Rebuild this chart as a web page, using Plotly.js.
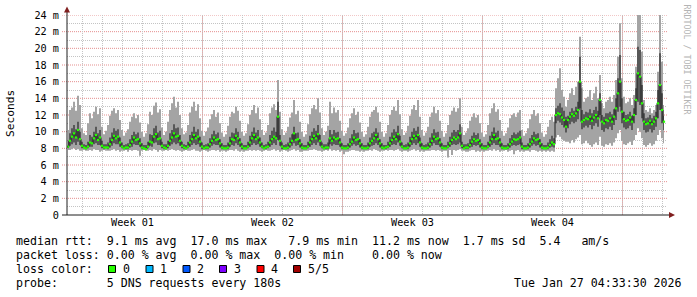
<!DOCTYPE html>
<html><head><meta charset="utf-8">
<script src="https://cdn.plot.ly/plotly-3.0.1.min.js"></script>
<style>html,body{margin:0;padding:0;background:#fff;} #chart{width:697px;height:297px;}</style>
</head><body><div id="chart"></div>
<script>
// time axis in hours since Mon 29 Dec 2025 00:00
const startHour = 5.4;
const stepHours = 2.4;
const rangeHours = [5.4, 725.4];
const weekStarts = [168, 336, 504, 672];
const weekLabelPos = [84, 252, 420, 588];
const weekLabels = ['Week 01', 'Week 02', 'Week 03', 'Week 04'];
const yTickVals = [0, 2, 4, 6, 8, 10, 12, 14, 16, 18, 20, 22, 24];
const yTickText = ['0', '2 m', '4 m', '6 m', '8 m', '10 m', '12 m', '14 m', '16 m', '18 m', '20 m', '22 m', '24 m'];
const yMinorVals = [1, 3, 5, 7, 9, 11, 13, 15, 17, 19, 21, 23];

// smoke: highest ping (ms)
const hi = [
10.2,12.6,12.9,13.6,12.5,14.3,13.2,10.4,9.8,9.6,
11.0,12.2,11.6,12.4,13.0,12.1,12.8,10.6,9.7,10.1,
10.8,11.9,12.5,12.8,12.2,12.6,11.4,10.2,9.5,9.9,
10.3,11.2,11.8,12.2,11.6,12.0,11.1,10.0,9.4,9.8,
10.9,12.4,12.0,13.1,13.5,12.3,12.7,10.5,9.6,10.0,
11.2,12.6,13.4,14.2,12.9,13.6,12.0,10.4,9.7,9.9,
10.8,12.3,13.0,13.6,12.5,13.3,11.6,10.1,9.5,10.0,
10.5,11.5,12.1,12.6,11.8,12.3,11.0,9.9,9.4,9.7,
10.7,11.8,12.4,12.2,13.0,12.5,11.3,10.0,9.5,9.8,
10.9,12.0,12.6,13.2,12.2,12.9,11.5,10.2,9.6,9.9,
10.8,12.2,12.9,13.3,12.6,16.2,12.4,10.3,9.6,9.9,
10.6,11.7,12.3,13.8,12.1,12.5,11.2,10.0,9.4,9.7,
10.9,12.1,12.8,13.2,12.7,14.0,12.3,10.4,9.6,10.0,
10.7,13.6,12.2,12.9,12.3,12.6,11.3,10.1,9.5,9.8,
10.5,11.6,12.2,12.8,12.0,12.4,11.1,10.0,9.4,9.7,
10.6,11.8,12.4,12.6,13.0,12.3,11.2,10.0,9.4,9.8,
10.8,12.0,12.6,13.0,12.5,13.8,12.1,10.3,9.6,9.9,
10.7,11.9,12.7,13.2,12.6,13.8,11.8,10.2,9.5,9.9,
10.6,11.8,12.3,13.0,12.2,12.6,11.3,10.1,9.4,9.8,
10.8,12.0,12.5,12.9,12.4,12.8,14.0,10.6,9.6,9.9,
10.4,11.3,11.8,12.2,11.7,12.0,11.0,9.9,9.4,9.7,
10.8,12.2,12.8,13.4,12.4,12.7,11.4,10.1,9.5,9.8,
10.5,11.6,12.0,12.2,11.8,12.3,12.6,10.2,9.5,9.8,
10.4,11.5,12.1,12.6,11.9,12.2,11.0,9.9,9.4,9.7,
10.6,11.4,11.8,11.2,15.2,16.4,17.6,15.0,14.2,13.0,
13.8,14.6,15.2,14.4,15.4,16.0,21.4,15.2,13.6,14.0,
14.2,15.0,13.8,14.6,15.4,14.0,16.8,13.4,12.8,13.6,
13.8,14.2,13.6,14.4,16.2,19.0,23.0,16.4,14.2,13.4,
13.6,14.0,13.2,14.4,17.8,24.5,24.5,19.6,13.8,12.6,
12.4,12.8,12.2,12.6,13.2,17.2,24.5,18.4,13.2
];
// smoke: 4th ping
const q3 = [
8.9,9.8,10.4,10.8,10.3,11.2,10.0,8.8,8.5,8.4,
8.8,9.6,9.4,10.0,10.6,9.8,10.2,8.9,8.5,8.5,
8.7,9.3,9.9,10.4,10.1,10.3,9.3,8.7,8.4,8.5,
8.6,9.1,9.6,10.0,9.7,9.9,9.2,8.6,8.4,8.4,
8.8,9.7,9.6,10.4,10.7,9.9,10.1,8.8,8.5,8.5,
8.9,9.8,10.2,10.9,10.4,10.5,9.6,8.8,8.5,8.4,
8.8,9.6,10.0,10.6,10.0,10.3,9.4,8.7,8.4,8.5,
8.6,9.2,9.7,10.1,9.7,9.9,9.1,8.6,8.4,8.4,
8.7,9.4,9.9,9.8,10.4,10.0,9.2,8.6,8.4,8.4,
8.8,9.5,10.0,10.5,9.9,10.2,9.3,8.7,8.4,8.5,
8.8,9.6,10.1,10.5,10.0,13.6,9.6,8.7,8.4,8.5,
8.7,9.3,9.7,10.6,9.8,9.9,9.1,8.6,8.4,8.4,
8.8,9.5,10.0,10.4,10.1,10.8,9.6,8.7,8.5,8.5,
8.7,10.2,9.7,10.2,9.9,10.0,9.2,8.6,8.4,8.4,
8.6,9.2,9.7,10.2,9.8,9.9,9.1,8.6,8.4,8.4,
8.7,9.3,9.8,10.0,10.4,9.9,9.1,8.6,8.4,8.4,
8.8,9.4,9.9,10.3,10.0,10.7,9.5,8.7,8.4,8.5,
8.7,9.4,10.0,10.4,10.1,10.6,9.3,8.6,8.4,8.5,
8.7,9.3,9.8,10.3,9.9,10.0,9.2,8.6,8.4,8.4,
8.8,9.4,9.9,10.2,10.0,10.2,10.9,8.8,8.5,8.5,
8.6,9.1,9.5,9.9,9.6,9.8,9.1,8.6,8.4,8.4,
8.8,9.5,10.0,10.5,9.9,10.1,9.2,8.6,8.4,8.4,
8.6,9.2,9.6,9.9,9.7,9.9,10.1,8.7,8.4,8.4,
8.6,9.2,9.6,10.0,9.7,9.8,9.1,8.6,8.4,8.4,
8.7,9.1,9.5,9.2,12.8,13.1,13.4,12.9,12.5,11.8,
11.9,12.4,12.8,12.5,13.0,13.6,19.0,12.6,12.1,12.4,
12.3,12.7,12.2,12.6,13.0,12.5,14.6,12.0,11.8,12.2,
12.2,12.4,12.1,12.7,14.0,16.4,19.2,14.0,12.4,12.0,
12.1,12.4,11.9,12.8,15.2,20.2,19.8,15.6,12.2,11.6,
11.7,12.0,11.6,11.9,12.4,15.0,19.4,14.6,11.9
];
// median rtt
const med = [
8.2,8.9,9.4,9.8,9.3,10.2,9.1,8.3,8.1,8.0,
8.2,8.7,8.6,9.2,9.6,9.0,9.3,8.3,8.1,8.1,
8.1,8.5,9.0,9.5,9.2,9.4,8.7,8.2,8.0,8.1,
8.1,8.4,8.8,9.3,9.0,9.1,8.6,8.1,8.0,7.9,
8.2,8.8,8.7,9.4,9.7,9.1,9.2,8.3,8.1,8.0,
8.3,8.9,9.3,9.8,9.4,9.5,8.9,8.3,8.1,8.0,
8.2,8.7,9.1,9.6,9.2,9.4,8.8,8.2,8.0,8.1,
8.1,8.5,8.9,9.3,9.0,9.1,8.6,8.1,8.0,8.0,
8.1,8.6,9.1,9.0,9.5,9.2,8.7,8.2,8.0,8.0,
8.2,8.7,9.2,9.6,9.1,9.3,8.7,8.2,8.0,8.1,
8.2,8.7,9.1,9.4,9.2,11.8,8.9,8.2,8.0,8.0,
8.1,8.5,8.9,9.8,9.0,9.1,8.6,8.1,8.0,8.0,
8.2,8.7,9.1,9.5,9.2,9.7,8.9,8.2,8.0,8.1,
8.1,9.2,8.9,9.3,9.1,9.2,8.7,8.1,8.0,8.0,
8.1,8.5,8.8,9.3,9.0,9.1,8.6,8.1,8.0,8.0,
8.1,8.6,8.9,9.2,9.6,9.1,8.6,8.1,8.0,8.1,
8.2,8.6,9.0,9.4,9.1,9.7,8.8,8.2,8.0,8.0,
8.1,8.6,9.1,9.5,9.2,9.6,8.7,8.1,8.0,8.0,
8.1,8.5,8.9,9.4,9.1,9.2,8.7,8.1,8.0,8.0,
8.2,8.6,9.0,9.3,9.1,9.3,9.8,8.3,8.0,8.1,
8.1,8.4,8.8,9.1,8.9,9.0,8.6,8.1,8.0,8.0,
8.2,8.7,9.1,9.6,9.1,9.2,8.7,8.1,8.0,8.0,
8.1,8.5,8.8,9.1,9.0,9.1,9.3,8.2,8.0,8.0,
8.1,8.5,8.8,9.2,9.0,9.1,8.6,8.1,8.0,8.0,
8.1,8.4,8.7,8.5,12.0,12.2,12.1,11.7,11.4,10.6,
11.4,11.8,12.1,11.9,12.2,12.6,16.0,11.2,11.4,11.6,
11.5,11.8,11.3,11.7,12.0,11.6,13.8,11.2,11.0,11.4,
11.3,11.6,11.2,11.8,12.8,14.6,16.0,12.4,11.5,11.3,
11.4,11.7,11.2,12.0,13.8,17.0,16.6,13.4,11.2,10.9,
11.0,11.3,10.9,11.2,11.6,13.4,15.6,12.6,11.2
];
// smoke: 2nd ping
const q1 = [
8.0,8.3,8.5,8.7,8.4,8.8,8.4,8.0,8.0,7.9,
8.0,8.2,8.2,8.5,8.6,8.4,8.4,8.0,7.9,8.0,
7.9,8.1,8.3,8.6,8.5,8.5,8.2,8.0,7.9,7.9,
7.9,8.1,8.2,8.5,8.4,8.4,8.2,7.9,7.9,7.9,
8.0,8.3,8.2,8.6,8.7,8.4,8.4,8.0,7.9,7.9,
8.0,8.3,8.5,8.7,8.5,8.6,8.3,8.0,7.9,7.9,
8.0,8.2,8.4,8.6,8.4,8.5,8.2,7.9,7.9,7.9,
7.9,8.1,8.3,8.5,8.4,8.4,8.1,7.9,7.9,7.9,
7.9,8.2,8.4,8.3,8.6,8.4,8.2,7.9,7.9,7.9,
8.0,8.2,8.4,8.6,8.4,8.5,8.2,8.0,7.9,7.9,
8.0,8.2,8.4,8.6,8.4,9.0,8.3,7.9,7.9,7.9,
7.9,8.1,8.3,8.6,8.3,8.4,8.1,7.9,7.9,7.9,
8.0,8.2,8.4,8.6,8.4,8.7,8.3,8.0,7.9,7.9,
7.9,8.5,8.3,8.5,8.4,8.4,8.2,7.9,7.9,7.9,
7.9,8.1,8.3,8.5,8.3,8.4,8.1,7.9,7.9,7.9,
7.9,8.2,8.3,8.4,8.6,8.4,8.1,7.9,7.9,7.9,
8.0,8.2,8.4,8.5,8.4,8.7,8.3,8.0,7.9,7.9,
7.9,8.2,8.4,8.6,8.4,8.6,8.2,7.9,7.9,7.9,
7.9,8.1,8.3,8.6,8.4,8.4,8.2,7.9,7.9,7.9,
8.0,8.2,8.4,8.5,8.4,8.5,8.7,8.0,7.9,7.9,
7.9,8.1,8.2,8.4,8.3,8.4,8.1,7.9,7.9,7.9,
8.0,8.2,8.4,8.6,8.4,8.4,8.2,7.9,7.9,7.9,
7.9,8.1,8.3,8.4,8.3,8.4,8.5,7.9,7.9,7.9,
7.9,8.1,8.3,8.5,8.3,8.4,8.1,7.9,7.9,7.9,
7.9,8.1,8.2,8.1,11.0,11.3,11.1,10.8,10.5,9.9,
10.4,10.9,11.2,11.0,11.2,11.5,12.8,10.3,10.5,10.7,
10.5,10.8,10.3,10.7,11.0,10.6,12.0,10.2,10.0,10.4,
10.3,10.6,10.2,10.8,11.4,12.4,13.0,11.0,10.5,10.3,
10.4,10.7,10.2,11.0,12.0,13.6,13.2,11.6,10.2,9.9,
10.0,10.3,9.9,10.2,10.6,11.6,12.6,11.0,10.2
];
// smoke: lowest ping
const lo = [
7.8,7.8,7.9,8.0,7.8,7.9,7.7,7.7,7.8,7.7,
7.7,7.8,7.7,7.9,7.8,7.8,7.6,7.7,7.8,7.7,
7.7,7.7,7.8,7.9,7.7,7.8,7.6,7.7,7.7,7.8,
7.6,7.8,7.7,7.8,7.8,7.7,7.1,7.7,7.8,7.7,
7.7,7.8,7.7,7.9,7.8,7.6,7.8,7.7,7.7,7.8,
7.7,7.8,7.9,7.8,7.7,7.8,7.7,7.6,7.7,7.8,
7.7,7.7,7.8,7.9,7.7,7.7,7.6,7.7,7.8,7.7,
7.6,7.7,7.8,7.8,7.7,7.8,7.6,7.7,7.7,7.6,
7.7,7.8,7.8,7.7,7.9,7.7,7.6,7.7,7.6,7.7,
7.7,7.8,7.7,7.8,7.7,7.8,7.7,7.6,7.7,7.8,
7.7,7.7,7.8,7.9,7.7,7.8,7.6,7.7,7.8,7.7,
7.6,7.7,7.8,7.9,7.7,7.8,7.6,7.6,7.7,7.7,
7.7,7.8,7.8,7.9,7.8,7.7,7.7,7.6,7.7,7.8,
7.7,7.9,7.7,7.8,7.7,7.8,7.6,7.7,7.3,7.6,
7.6,7.7,7.8,7.8,7.7,7.7,7.6,7.7,7.6,7.7,
7.7,7.8,7.7,7.9,7.8,7.7,7.6,7.7,7.7,7.8,
7.7,7.8,7.8,7.7,7.8,7.9,7.7,7.6,7.7,7.7,
7.6,7.7,7.8,7.9,7.7,7.8,7.6,7.7,7.6,7.7,
7.7,7.7,7.8,7.8,7.7,7.8,7.7,7.6,7.7,7.7,
6.9,7.8,7.2,7.8,7.7,7.8,7.9,7.7,7.7,7.6,
7.6,7.7,7.8,7.8,7.6,7.7,7.6,7.7,7.6,7.7,
7.7,7.8,7.7,7.9,7.7,7.8,7.6,7.7,7.7,7.8,
7.6,7.7,7.8,7.3,7.7,7.8,7.6,7.7,7.6,7.7,
7.7,7.6,7.8,7.8,7.7,7.6,7.7,7.6,7.7,7.6,
7.7,7.6,7.7,7.6,9.3,9.6,9.4,9.1,8.9,8.8,
8.8,8.6,9.0,8.7,9.1,9.3,9.6,8.5,8.6,8.9,
8.6,8.4,8.2,8.5,8.7,8.4,9.4,8.3,8.2,8.5,
8.4,8.6,8.3,8.7,9.2,9.8,10.2,8.9,8.5,8.4,
8.6,8.8,8.4,9.0,9.6,10.4,10.0,9.2,8.4,8.2,
8.4,8.6,8.3,8.5,8.9,9.6,10.2,9.2,8.6
];

const lossColors = ['#26ff00', '#00b8ff', '#0059ff', '#7e00ff', '#ff0000', '#a00000'];
const lossLabels = ['0', '1', '2', '3', '4', '5/5'];
const legendLines = [
  'median rtt:  9.1 ms avg  17.0 ms max   7.9 ms min  11.2 ms now  1.7 ms sd  5.4   am/s',
  'packet loss: 0.00 % avg  0.00 % max  0.00 % min    0.00 % now',
  'loss color:',
  'probe:       5 DNS requests every 180s'
];
const stampText = 'Tue Jan 27 04:33:30 2026';
const watermark = 'RRDTOOL / TOBI OETIKER';
const yTitle = 'Seconds';

// ---------- layout helpers (pixel -> paper) ----------
const PL = 67, PT = 15, PW = 600, PH = 200;
const px = v => (v - PL) / PW;
const py = v => (PT + PH - v) / PH;
const nb = s => s.replace(/ /g, '\u00a0');
const MONO = 'DejaVu Sans Mono';

const x = hi.map((_, i) => startHour + (i + 0.5) * stepHours);

const base = {type: 'scatter', mode: 'lines', x: x, hoverinfo: 'skip', showlegend: false};
const traces = [
  Object.assign({}, base, {y: lo, line: {width: 0, shape: 'hvh'}}),
  Object.assign({}, base, {y: hi, line: {width: 0, shape: 'hvh'}, fill: 'tonexty', fillcolor: '#a4a4a4'}),
  Object.assign({}, base, {y: q1, line: {width: 0, shape: 'hvh'}}),
  Object.assign({}, base, {y: q3, line: {width: 0, shape: 'hvh'}, fill: 'tonexty', fillcolor: '#585858'}),
  Object.assign({}, base, {y: med, line: {width: 1, shape: 'hvh', color: '#202020'}}),
  Object.assign({}, base, {y: med, mode: 'markers',
    marker: {symbol: 'square', size: 2.2, color: lossColors[0], line: {width: 0}}})
];

const gridDot = '1px,1px';
const gridGrey = '#c4c4c4';
const gridRed = '#e58f8f';
const weekRed = '#eba9a9';
const shapes = [];
// major grid: week boundaries (vertical) and every 2 m (horizontal)
weekStarts.forEach(w => shapes.push({type: 'line', xref: 'x', yref: 'paper', x0: w, x1: w, y0: 0, y1: 1,
  layer: 'below', line: {color: weekRed, width: 1, dash: gridDot}}));
yTickVals.filter(v => v > 0).forEach(v => shapes.push({type: 'line', xref: 'paper', yref: 'y',
  x0: px(62), x1: 1, y0: v, y1: v, layer: 'below', line: {color: gridRed, width: 1, dash: gridDot}}));
// axes with arrows
shapes.push({type: 'line', xref: 'paper', yref: 'paper', x0: px(62), x1: px(670), y0: 0, y1: 0,
  line: {color: '#1f1f1f', width: 1}});
shapes.push({type: 'line', xref: 'paper', yref: 'paper', x0: 0, x1: 0, y0: 0, y1: py(11),
  line: {color: '#1f1f1f', width: 1}});
shapes.push({type: 'path', xref: 'paper', yref: 'paper', fillcolor: '#801f1f', line: {width: 0},
  path: `M ${px(67)} ${py(6.5)} L ${px(64)} ${py(12.5)} L ${px(70)} ${py(12.5)} Z`});
shapes.push({type: 'path', xref: 'paper', yref: 'paper', fillcolor: '#801f1f', line: {width: 0},
  path: `M ${px(675)} ${py(215)} L ${px(669)} ${py(212)} L ${px(669)} ${py(218)} Z`});
// loss colour boxes
const boxX = [108.5, 146, 183, 219.5, 257, 293.5];
const labelX = [123, 160, 197, 234, 271, 307.5];
lossColors.forEach((c, i) => shapes.push({type: 'rect', xref: 'paper', yref: 'paper',
  x0: px(boxX[i]), x1: px(boxX[i] + 7), y0: py(272.5), y1: py(265.5),
  fillcolor: c, line: {color: '#000', width: 1}}));

const ann = [];
const lineY = [241, 255, 269, 283];
legendLines.forEach((t, i) => ann.push({xref: 'paper', yref: 'paper', x: px(15.5), y: py(lineY[i]),
  xanchor: 'left', yanchor: 'middle', showarrow: false, text: nb(t), borderpad: 0, borderwidth: 0,
  font: {family: MONO, size: 11.6, color: '#000'}}));
lossLabels.forEach((t, i) => ann.push({xref: 'paper', yref: 'paper', x: px(labelX[i]), y: py(269),
  xanchor: 'left', yanchor: 'middle', showarrow: false, text: t, borderpad: 0, borderwidth: 0,
  font: {family: MONO, size: 11.6, color: '#000'}}));
ann.push({xref: 'paper', yref: 'paper', x: px(681.5), y: py(283), xanchor: 'right', yanchor: 'middle',
  showarrow: false, text: nb(stampText), borderpad: 0, borderwidth: 0,
  font: {family: MONO, size: 11.6, color: '#000'}});
ann.push({xref: 'paper', yref: 'paper', x: px(10), y: py(114), xanchor: 'center', yanchor: 'middle',
  showarrow: false, text: yTitle, textangle: -90, borderpad: 0, borderwidth: 0,
  font: {family: MONO, size: 11.2, color: '#000'}});
ann.push({xref: 'paper', yref: 'paper', x: px(686.5), y: py(59), xanchor: 'center', yanchor: 'middle',
  showarrow: false, text: nb(watermark), textangle: 90, borderpad: 0, borderwidth: 0,
  font: {family: MONO, size: 8.3, color: '#b4b4b4'}});

const layout = {
  width: 697, height: 297,
  margin: {l: PL, r: 697 - PL - PW, t: PT, b: 297 - PT - PH, pad: 0},
  paper_bgcolor: '#ffffff', plot_bgcolor: '#ffffff',
  showlegend: false,
  font: {family: MONO, size: 10.2, color: '#000'},
  xaxis: {
    range: rangeHours, fixedrange: true, zeroline: false, showline: false,
    tickmode: 'array', tickvals: weekLabelPos, ticktext: weekLabels,
    ticks: '', showgrid: false, tickfont: {family: MONO, size: 10.2, color: '#000'},
    minor: {tick0: 0, dtick: 24, showgrid: true, gridcolor: gridGrey, griddash: gridDot, gridwidth: 1, ticks: ''}
  },
  yaxis: {
    range: [0, 24], fixedrange: true, zeroline: false, showline: false,
    tickmode: 'array', tickvals: yTickVals, ticktext: yTickText,
    ticks: '', ticklabelstandoff: 7, showgrid: false,
    tickfont: {family: MONO, size: 10.2, color: '#000'},
    minor: {tickmode: 'array', tickvals: yMinorVals, showgrid: true, gridcolor: gridGrey, griddash: gridDot, gridwidth: 1, ticks: ''}
  },
  shapes: shapes,
  annotations: ann
};

Plotly.newPlot('chart', traces, layout, {staticPlot: true, displayModeBar: false});
</script>
</body></html>
